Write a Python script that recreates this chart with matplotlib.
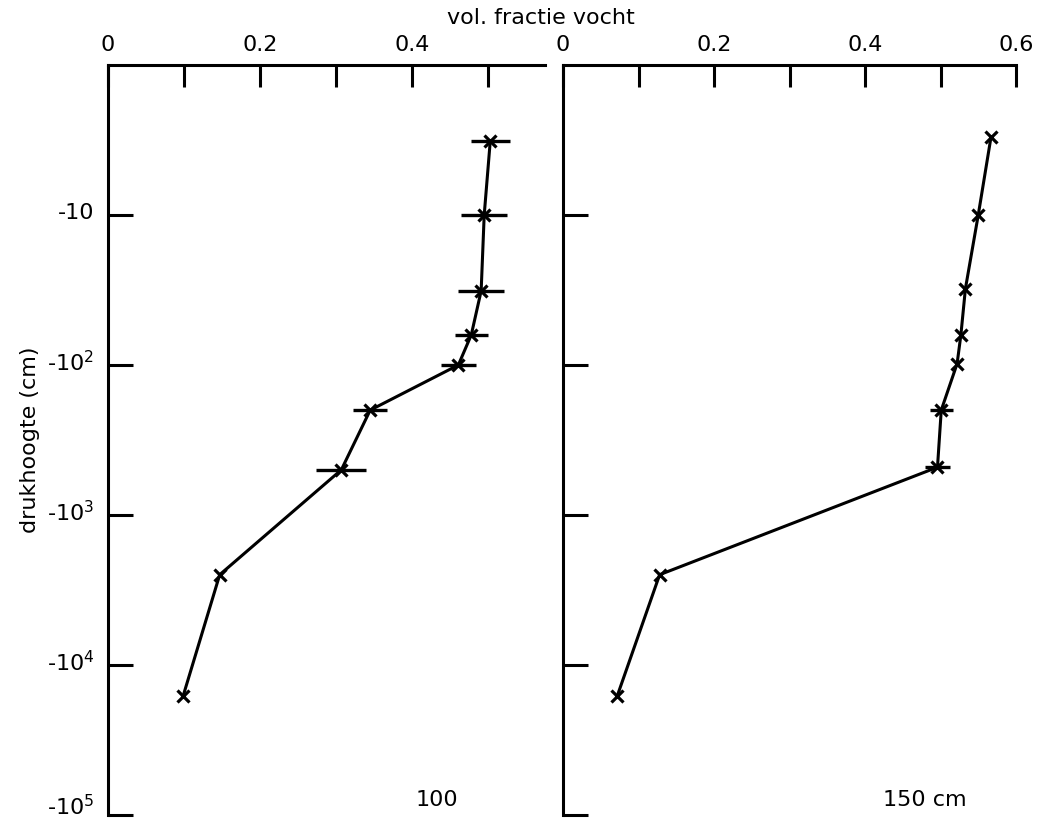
import numpy as np
import matplotlib
matplotlib.use("Agg")
import matplotlib.pyplot as plt
import matplotlib.transforms as mtransforms
from matplotlib.ticker import FixedLocator, NullLocator

# pressure head (cm), both panels
h_100 = [-3.2, -10, -32, -63, -100, -200, -500, -2500, -16000]
theta_100 = [0.503, 0.495, 0.491, 0.478, 0.461, 0.345, 0.307, 0.147, 0.099]
err_100 = [0.026, 0.030, 0.030, 0.022, 0.023, 0.022, 0.033, 0.0, 0.0]

h_150 = [-3.0, -10, -31, -63, -98, -200, -480, -2500, -16000]
theta_150 = [0.567, 0.550, 0.533, 0.527, 0.522, 0.501, 0.496, 0.128, 0.072]
err_150 = [0.0, 0.0, 0.0, 0.0, 0.0, 0.015, 0.016, 0.0, 0.0]

xticks_left = [0, 0.1, 0.2, 0.3, 0.4, 0.5]
xlabels_left = ["0", "", "0.2", "", "0.4", ""]
xticks_right = [0, 0.1, 0.2, 0.3, 0.4, 0.5, 0.6]
xlabels_right = ["0", "", "0.2", "", "0.4", "", "0.6"]
ytick_vals = [10, 100, 1000, 10000, 100000]
ytick_labels = ["-10", "-10$^{2}$", "-10$^{3}$", "-10$^{4}$", "-10$^{5}$"]

W, H = 1039, 823
plt.rcParams['font.family'] = ['DejaVu Sans']
plt.rcParams['axes.unicode_minus'] = False
plt.rcParams['mathtext.default'] = 'regular'
fig = plt.figure(figsize=(W / 100, H / 100), dpi=100)

top_px, bot_px = 65, 815
def ax_rect(x0, x1):
    return [x0 / W, 1 - bot_px / H, (x1 - x0) / W, (bot_px - top_px) / H]

axL = fig.add_axes(ax_rect(108, 545))
axR = fig.add_axes(ax_rect(563, 1016))

lw = 2.2
for ax, h, th, er, xmax, xt, xl in [
    (axL, h_100, theta_100, err_100, (545 - 108) / 760.0, xticks_left, xlabels_left),
    (axR, h_150, theta_150, err_150, 0.6, xticks_right, xlabels_right),
]:
    y = -np.array(h)
    ax.plot(th, y, color='black', lw=lw, zorder=2)
    ax.plot(th, y, linestyle='none', marker='x', ms=9, mew=2.3, color='black', zorder=3)
    e = np.array(er)
    m = e > 0
    ax.errorbar(np.array(th)[m], y[m], xerr=e[m], fmt='none', ecolor='black',
                elinewidth=2.4, capsize=0, zorder=3)
    ax.set_yscale('log')
    ax.set_ylim(1e5, 1)
    ax.set_xlim(0, xmax)
    for s in ['right', 'bottom']:
        ax.spines[s].set_visible(False)
    for s in ['top', 'left']:
        ax.spines[s].set_linewidth(2.2)
    ax.xaxis.set_ticks_position('top')
    ax.xaxis.set_major_locator(FixedLocator(xt))
    ax.set_xticklabels(xl)
    ax.tick_params(axis='x', direction='in', length=16, width=2.2, labelsize=16, pad=7)
    ax.yaxis.set_major_locator(FixedLocator(ytick_vals))
    ax.yaxis.set_minor_locator(NullLocator())
    ax.tick_params(axis='y', direction='in', length=18, width=2.2, labelsize=16, pad=10)
    ax.patch.set_alpha(0)

axL.set_yticklabels(ytick_labels)
axR.set_yticklabels([])

# lift the bottom tick label a bit so it stays inside the figure
for i, lab in enumerate(axL.get_yticklabels()):
    dy = 10 if i == len(ytick_vals) - 1 else 4
    lab.set_transform(lab.get_transform() +
                      mtransforms.ScaledTranslation(0, dy / 100, fig.dpi_scale_trans))

fig.text(541 / W, 1 - 18 / H, "vol. fractie vocht", ha='center', va='center', fontsize=16)
fig.text(30 / W, 1 - 440 / H, "drukhoogte (cm)", ha='center', va='center', fontsize=16, rotation=90)
fig.text(437 / W, 1 - 800 / H, "100", ha='center', va='center', fontsize=16)
fig.text(925 / W, 1 - 800 / H, "150 cm", ha='center', va='center', fontsize=16)

fig.savefig("out.png", dpi=100)
